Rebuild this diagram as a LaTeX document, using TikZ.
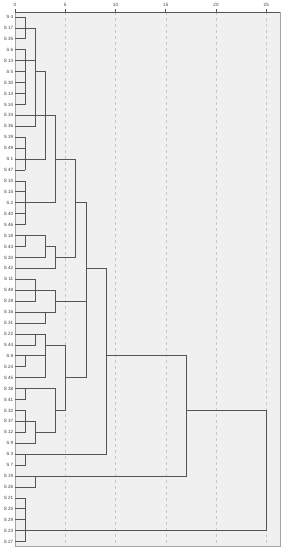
\documentclass[tikz,border=0pt]{standalone}
\usepackage{fontspec}
\setmainfont{Liberation Sans}
\definecolor{panelbg}{RGB}{240,240,240}
\definecolor{panelrule}{RGB}{165,165,165}
\definecolor{treeln}{RGB}{85,85,85}
\definecolor{gridgy}{RGB}{200,200,200}
\definecolor{labgy}{RGB}{60,60,60}

\begin{document}
\begin{tikzpicture}[x=10.05pt, y=-10.93pt,
    font=\fontsize{4.6}{5}\selectfont,
    leaf/.style={anchor=east, inner sep=0pt, text=labgy},
    ticklab/.style={anchor=base, inner sep=0pt, text=labgy},
    link/.style={treeln, line width=0.8pt, line cap=rect}]

\useasboundingbox (-1.493,-0.555) rectangle (26.667,49.765);

% ════════════════════════════════════════
%  Panel, grid and axis
% ════════════════════════════════════════

\fill[panelbg] (0,0.543) rectangle (26.37,49.40);
\foreach \t in {5,10,...,25}
    \draw[gridgy, dashed, line width=0.5pt] (\t,0.543) -- (\t,49.40);
\draw[panelrule, line width=0.6pt] (0,0.543) rectangle (26.37,49.40);
\draw[treeln, line width=0.7pt] (0,0.543) -- (26.37,0.543);

\foreach \t in {0,5,...,25} {
    \draw[treeln, line width=0.6pt] (\t,0.27) -- (\t,0.543);
    \node[ticklab] (tick\t) at (\t,0.02) {\t};
}

% ════════════════════════════════════════
%  Leaves
% ════════════════════════════════════════

\foreach \s [count=\i] in {4,17,35,6,13,5,30,14,34,33,36,39,49,1,47,10,15,2,40,46,
                           18,43,20,42,11,48,28,16,31,22,44,8,24,45,38,41,32,37,12,9,
                           3,7,19,26,21,25,29,23,27}
    \node[leaf] (s\s) at (-0.15,\i) {S \s};

% ════════════════════════════════════════
%  Tree: horizontal runs (row / from / to)
% ════════════════════════════════════════

\foreach \r/\a/\b in {1/0/1, 2/0/2, 3/0/1, 4/0/1, 5/0/2, 6/0/1, 6/2/3, 7/0/1, 8/0/1, 9/0/1,
                      10/0/4, 11/0/2, 12/0/1, 13/0/1, 14/0/3, 14/4/6, 15/0/1,
                      16/0/1, 17/0/1, 18/0/4, 18/6/7.07, 19/0/1, 20/0/1,
                      21/0/3, 22/0/1, 22/3/4, 23/0/3, 23/4/6, 24/0/4, 24/7.07/9.05,
                      25/0/2, 26/0/4, 27/0/2, 27/4/7.07, 28/0/4, 29/0/3,
                      30/0/3, 31/0/2, 31/3/5, 32/0/3, 32/9.05/17.08, 33/0/1,
                      34/0/3, 34/5/7.07, 35/0/4, 36/0/1, 37/0/1, 37/4/5, 37/17.08/25,
                      38/0/2, 39/0/1, 39/2/4, 40/0/2, 41/0/9.05, 42/0/1,
                      43/0/17.08, 44/0/2, 45/0/1, 46/0/1, 47/0/1, 48/0/25, 49/0/1}
    \draw[link] (\a,\r) -- (\b,\r);

% vertical joins (distance / top row / bottom row)
\foreach \u/\a/\b in {1/1/3, 1/4/9, 1/12/15, 1/16/20, 1/21/22, 1/32/33, 1/35/36,
                      1/37/39, 1/41/42, 1/45/49,
                      2/2/11, 2/25/27, 2/30/31, 2/38/40, 2/43/44,
                      3/6/14, 3/21/23, 3/28/29, 3/30/34,
                      4/10/18, 4/22/24, 4/26/28, 4/35/39,
                      5/31/37, 6/14/23, 7.07/18/34, 9.05/24/41,
                      17.08/32/43, 25/37/48}
    \draw[link] (\u,\a) -- (\u,\b);

\end{tikzpicture}
\end{document}
